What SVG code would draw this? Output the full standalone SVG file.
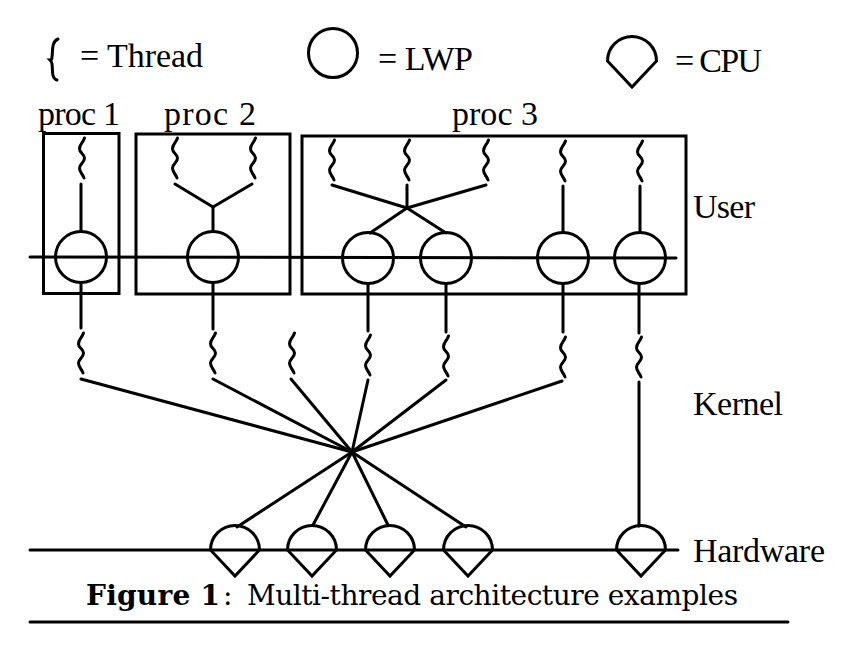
<svg xmlns="http://www.w3.org/2000/svg" xmlns:xlink="http://www.w3.org/1999/xlink" width="842" height="656" viewBox="0 0 842 656">
<style>
.ln{stroke:#000;stroke-width:3;fill:none;stroke-linecap:round}
.sh{stroke:#000;stroke-width:3;fill:none}
.sq{stroke:#000;stroke-width:3;fill:none;stroke-linecap:round}
.t{font-family:"Liberation Serif","Times New Roman",serif;font-size:34px;fill:#000}
.cap{font-family:"DejaVu Serif","Liberation Serif",serif;font-size:28px;fill:#000}
</style>
<defs>
<path id="sq" class="sq" d="M2.5,0 C1,5 -2.5,6 -2.5,11 C-2.5,15 2.5,16 2.5,20 C2.5,25 -2.5,26 -2.5,30 C-2.5,35 1,36 2,40"/>
<path id="cpu" class="sh" d="M-24.5,0 A24.5,24.5 0 0 1 24.5,0 L0,26 Z"/>
</defs>
<rect width="842" height="656" fill="#fff"/>

<g id="legend">
<path class="sq" d="M58,39 C51,42 53,52 52,57 C52,59 51,60 50,60 C51,61 52,62 52,64 C53,70 51,78 57,80"/>
<text class="t" x="80" y="67" textLength="123">= Thread</text>
<circle class="sh" cx="333" cy="53" r="24.5"/>
<text class="t" x="378" y="70" textLength="95">= LWP</text>
<use xlink:href="#cpu" href="#cpu" x="632" y="61"/>
<text class="t" x="675" y="72" textLength="87">= CPU</text>
</g>

<g id="proc1">
<text class="t" x="38" y="125" textLength="82">proc 1</text>
<rect class="sh" x="43.5" y="133.5" width="75.5" height="160"/>
</g>
<g id="proc2">
<text class="t" x="164" y="125" textLength="92">proc 2</text>
<rect class="sh" x="136" y="134" width="154" height="160"/>
</g>
<g id="proc3">
<text class="t" x="452" y="125" textLength="86">proc 3</text>
<rect class="sh" x="302" y="136" width="384" height="158"/>
</g>

<g id="user-threads">
<use href="#sq" x="82" y="138"/>
<use href="#sq" x="175" y="138"/>
<use href="#sq" x="253" y="138"/>
<use href="#sq" x="332" y="140"/>
<use href="#sq" x="407" y="140"/>
<use href="#sq" x="486" y="140"/>
<use href="#sq" x="563" y="141"/>
<use href="#sq" x="640" y="141"/>
</g>

<g id="lwps">
<circle class="sh" cx="81" cy="257" r="25.5"/>
<circle class="sh" cx="213" cy="257" r="25.5"/>
<circle class="sh" cx="368" cy="258" r="25.5"/>
<circle class="sh" cx="446" cy="258" r="25.5"/>
<circle class="sh" cx="563" cy="258" r="25.5"/>
<circle class="sh" cx="640" cy="258" r="25.5"/>
</g>

<g id="kernel-threads">
<use href="#sq" x="81" y="333"/>
<use href="#sq" x="213" y="333"/>
<use href="#sq" x="292" y="333"/>
<use href="#sq" x="368" y="335"/>
<use href="#sq" x="446" y="336"/>
<use href="#sq" x="563" y="337"/>
<use href="#sq" x="639" y="337"/>
</g>

<g id="cpus">
<use href="#cpu" x="235" y="550"/>
<use href="#cpu" x="312" y="550"/>
<use href="#cpu" x="390" y="550"/>
<use href="#cpu" x="468" y="550"/>
<use href="#cpu" x="641" y="550"/>
</g>

<g id="connectors">
<line class="ln" x1="30" y1="257" x2="676" y2="258"/>
<line class="ln" x1="30" y1="550" x2="678" y2="550"/>
<line class="ln" x1="81" y1="184" x2="81" y2="231"/>
<line class="ln" x1="175" y1="184" x2="213" y2="207"/>
<line class="ln" x1="252" y1="184" x2="213" y2="207"/>
<line class="ln" x1="213" y1="207" x2="213" y2="231"/>
<line class="ln" x1="332" y1="185" x2="407" y2="208"/>
<line class="ln" x1="407" y1="185" x2="407" y2="208"/>
<line class="ln" x1="486" y1="185" x2="407" y2="208"/>
<line class="ln" x1="407" y1="208" x2="370" y2="233"/>
<line class="ln" x1="407" y1="208" x2="446" y2="233"/>
<line class="ln" x1="563" y1="186" x2="563" y2="232"/>
<line class="ln" x1="640" y1="186" x2="640" y2="232"/>
<line class="ln" x1="81" y1="283" x2="81" y2="328"/>
<line class="ln" x1="213" y1="283" x2="213" y2="329"/>
<line class="ln" x1="368" y1="284" x2="368" y2="331"/>
<line class="ln" x1="446" y1="284" x2="446" y2="332"/>
<line class="ln" x1="563" y1="284" x2="563" y2="332"/>
<line class="ln" x1="639" y1="284" x2="639" y2="333"/>
<line class="ln" x1="81" y1="379" x2="352" y2="452"/>
<line class="ln" x1="213" y1="379" x2="352" y2="452"/>
<line class="ln" x1="291" y1="379" x2="352" y2="452"/>
<line class="ln" x1="368" y1="380" x2="352" y2="452"/>
<line class="ln" x1="446" y1="380" x2="352" y2="452"/>
<line class="ln" x1="562" y1="381" x2="352" y2="452"/>
<line class="ln" x1="639" y1="382" x2="639" y2="526"/>
<line class="ln" x1="352" y1="452" x2="237" y2="527"/>
<line class="ln" x1="352" y1="452" x2="313" y2="525"/>
<line class="ln" x1="352" y1="452" x2="388" y2="525"/>
<line class="ln" x1="352" y1="452" x2="466" y2="527"/>
</g>

<g id="layer-labels">
<text class="t" x="693" y="218" textLength="62">User</text>
<text class="t" x="693" y="415" textLength="90">Kernel</text>
<text class="t" x="693" y="562" textLength="132">Hardware</text>
</g>

<g id="caption">
<text class="cap" x="86" y="605" font-weight="bold" textLength="134">Figure 1</text>
<text class="cap" x="223" y="605">:</text>
<text class="cap" x="247" y="605" textLength="491">Multi-thread architecture examples</text>
<line class="ln" x1="30" y1="622" x2="788" y2="622" stroke-linecap="butt"/>
</g>
</svg>
